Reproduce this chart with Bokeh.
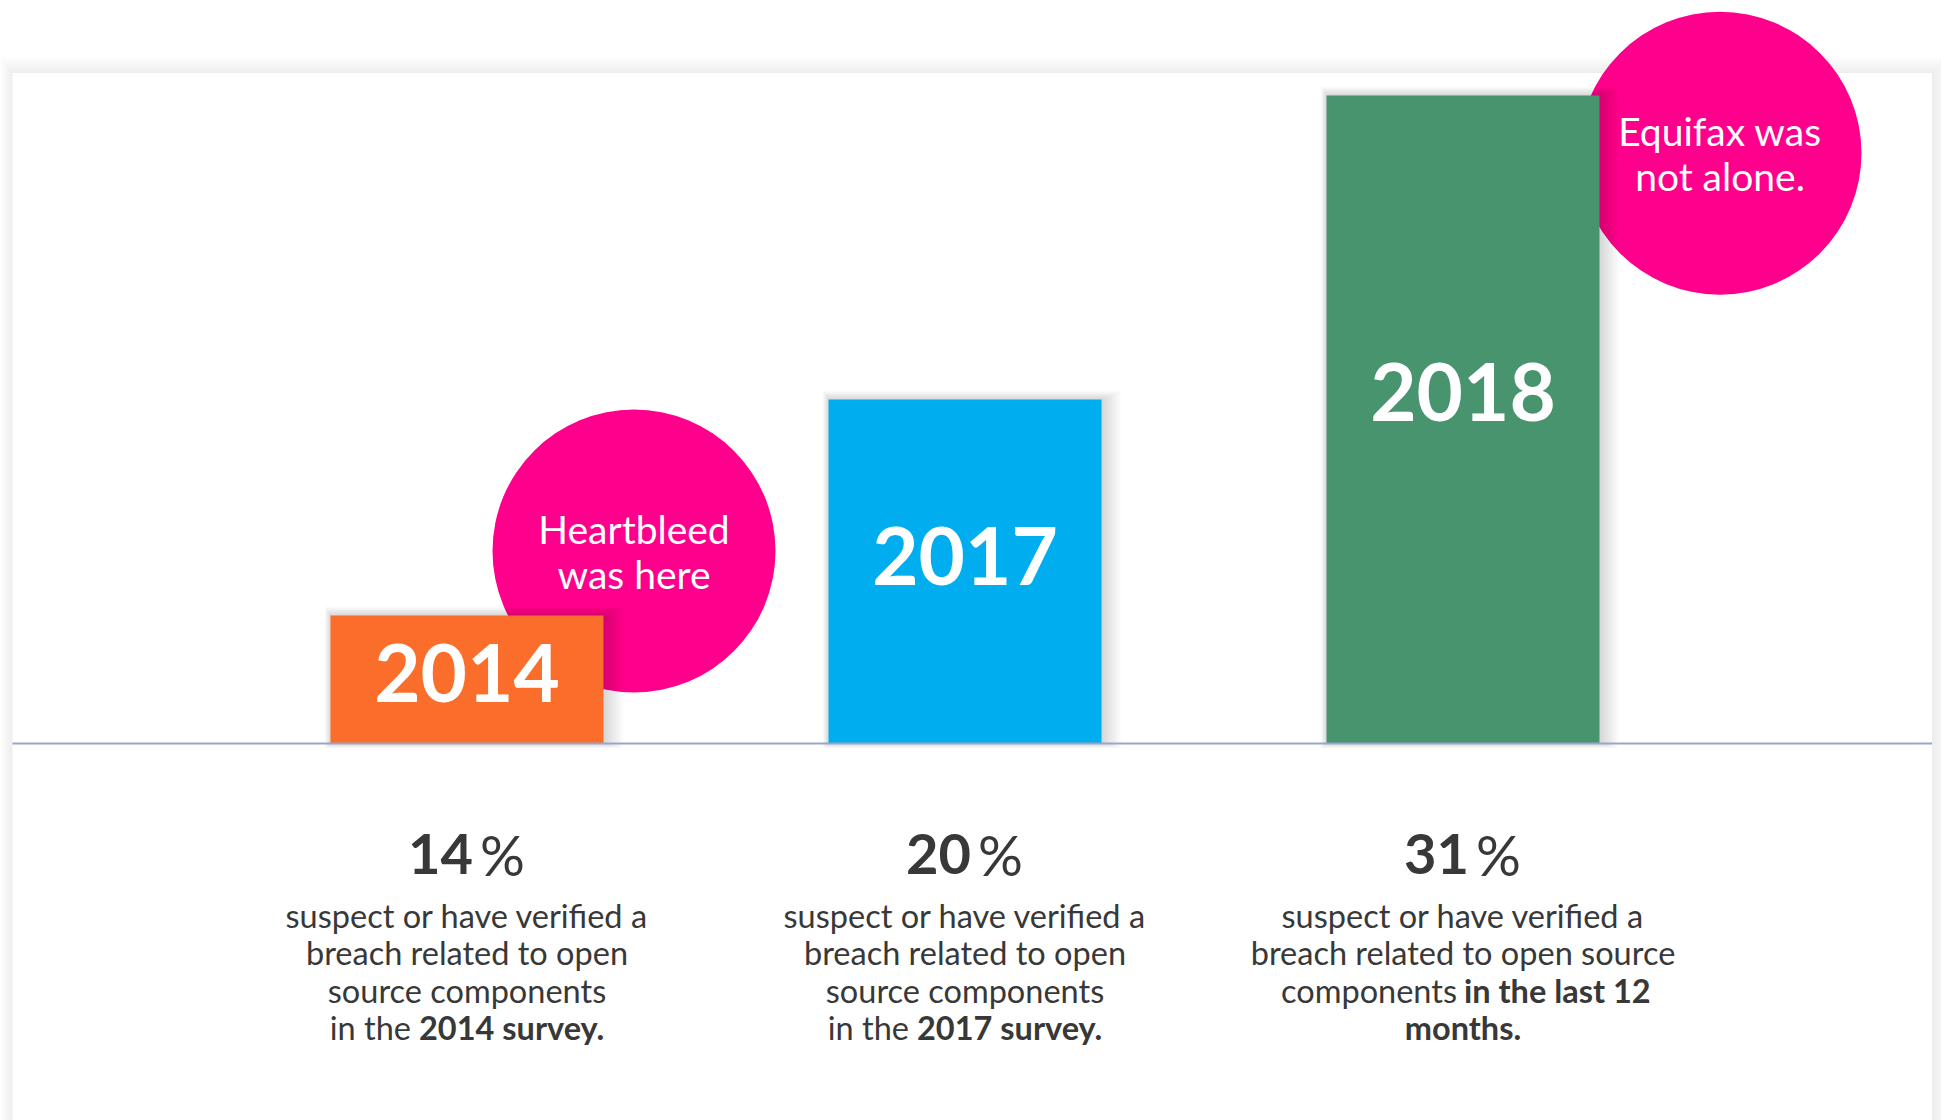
from bokeh.plotting import figure
from bokeh.models import Range1d
from bokeh.embed import file_html
from bokeh.resources import INLINE
from bokeh.core.properties import value

# ---------------- data ----------------
years = ["2014", "2017", "2018"]
percents = [14, 20, 31]
bar_heights = [128, 344, 648]          # drawn bar heights above the baseline
bar_colors = ["#FB6D2A", "#00AEEF", "#47946E"]
callout_lines = [["Heartbleed", "was here"], ["Equifax was", "not alone."]]
# each description line: (regular part, bold part)
desc_lines = [
    [("suspect or have verified a", ""), ("breach related to open", ""),
     ("source components", ""), ("in the", "2014 survey.")],
    [("suspect or have verified a", ""), ("breach related to open", ""),
     ("source components", ""), ("in the", "2017 survey.")],
    [("suspect or have verified a", ""), ("breach related to open source", ""),
     ("components", "in the last 12"), ("", "months.")],
]

# ---------------- layout ----------------
W, H = 1941, 1120
OX, OY = 0, 0
X0, UNIT = 466.5, 498.0      # screen x of first bar centre, px between bars
BASE = 743.0                 # screen y of baseline
BAR_W = 273.0
TSHIFT = 0.38                # text baseline correction (fraction of font size)


def dx(px):
    return (px - X0) / UNIT


def dy(py):
    return BASE - py


def ty(py, fs):
    """data y for a text baseline at screen y py with font size fs"""
    return dy(py) + TSHIFT * fs


FONT = value("Lato")
DARK = "#383838"
PINK = "#FF008C"

p = figure(width=W, height=H, x_range=Range1d(dx(OX), dx(OX + W)),
           y_range=Range1d(dy(OY + H), dy(OY)), output_backend="svg",
           toolbar_location=None, min_border=0)
p.axis.visible = False
p.grid.visible = False
p.outline_line_color = None
p.background_fill_color = "white"
p.border_fill_color = "white"

# card shadow + card
CL, CR, CT, CB = 12, 1931.5, 72.5, 1160
for k in range(1, 19):
    p.quad(left=dx(CL - k * 0.7), right=dx(CR + k * 1.0), top=dy(CT - k * 0.9),
           bottom=dy(CB), fill_color="black", fill_alpha=0.0045, line_color=None)
p.quad(left=dx(CL), right=dx(CR), top=dy(CT), bottom=dy(CB),
       fill_color="white", line_color=None)

# callout circles
circ_sx = [633.5, 1719.5]
circ_sy = [550.5, 152.7]
p.scatter(x=[dx(v) for v in circ_sx], y=[dy(v) for v in circ_sy], size=283,
          marker="circle", fill_color=PINK, line_color=None)

# callout texts
CFS = 39
for cx, cy, lines in zip(circ_sx, circ_sy, callout_lines):
    for j, t in enumerate(lines):
        base = cy - 7 + j * 45
        p.text(x=[dx(cx)], y=[ty(base, CFS)], text=[t],
               text_font=FONT, text_font_size=f"{CFS}px", text_color="white",
               text_align="center", text_baseline="alphabetic")

idx = list(range(len(years)))
hw = BAR_W / 2 / UNIT

# bar shadows
for k in range(1, 21):
    p.quad(left=[i - hw - k * 0.3 / UNIT for i in idx],
           right=[i + hw + k * 1.0 / UNIT for i in idx],
           top=[h + k * 0.45 for h in bar_heights],
           bottom=[-k * 0.25 for _ in idx],
           fill_color="black", fill_alpha=0.0085, line_color=None)

# bars
p.vbar(x=idx, width=BAR_W / UNIT, top=bar_heights, bottom=0,
       fill_color=bar_colors, line_color=None)

# baseline
p.segment(x0=[dx(CL)], x1=[dx(CR)], y0=[0], y1=[0],
          line_color="#9BA4CC", line_width=2)

# year labels inside bars
YFS = 80
p.text(x=idx, y=[h * 0.54 - 29 + TSHIFT * YFS for h in bar_heights], text=years,
       text_font=FONT, text_font_style="bold", text_font_size=f"{YFS}px",
       text_color="white", text_align="center", text_baseline="alphabetic")

# percentages
PFS = 56
p.text(x=[i + 6 / UNIT for i in idx], y=[ty(875, PFS)] * len(idx),
       text=[str(v) for v in percents], text_font=FONT, text_font_style="bold",
       text_font_size=f"{PFS}px", text_color=DARK, text_align="right",
       text_baseline="alphabetic")
p.text(x=[i + 13 / UNIT for i in idx], y=[ty(875, PFS)] * len(idx),
       text=["%"] * len(idx), text_font=FONT, text_font_size=f"{PFS}px",
       text_color=DARK, text_align="left", text_baseline="alphabetic")

# descriptions
DFS = 32.5
line_y = [927, 964.5, 1002, 1039.5]
split = {0: (-56, -48), 1: (-56, -48), 2: (-6, 1)}
for i, lines in zip(idx, desc_lines):
    for j, (reg, bold) in enumerate(lines):
        y = ty(line_y[j], DFS)
        if reg and bold:
            a, b = split[i]
            p.text(x=[i + a / UNIT], y=[y], text=[reg], text_font=FONT,
                   text_font_size=f"{DFS}px", text_color=DARK, text_align="right",
                   text_baseline="alphabetic")
            p.text(x=[i + b / UNIT], y=[y], text=[bold], text_font=FONT,
                   text_font_style="bold", text_font_size=f"{DFS}px",
                   text_color=DARK, text_align="left", text_baseline="alphabetic")
        else:
            p.text(x=[i], y=[y], text=[reg or bold], text_font=FONT,
                   text_font_style="bold" if bold else "normal",
                   text_font_size=f"{DFS}px", text_color=DARK, text_align="center",
                   text_baseline="alphabetic")

open("out.html", "w").write(file_html(p, INLINE))
